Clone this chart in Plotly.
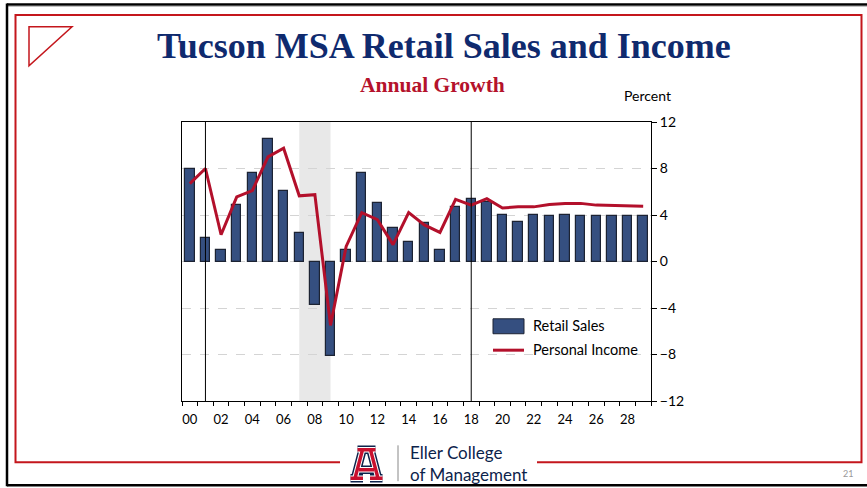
import plotly.graph_objects as go

# ---------------- data ----------------
years = list(range(2000, 2030))
retail_sales = [8.0, 2.0, 0.95, 4.85, 7.6, 10.5, 6.1, 2.45, -3.7, -8.1,
                1.0, 7.6, 5.05, 2.85, 1.7, 3.35, 0.95, 4.65, 5.35, 5.15,
                4.0, 3.4, 4.0, 3.9, 4.0, 3.95, 3.9, 3.9, 3.9, 3.95]
personal_income = [6.7, 8.0, 2.3, 5.55, 6.1, 9.0, 9.75, 5.65, 5.75, -5.5,
                   1.3, 4.2, 3.6, 1.45, 4.2, 3.15, 2.5, 5.35, 4.85, 5.4,
                   4.6, 4.7, 4.7, 4.9, 5.0, 5.0, 4.85, 4.8, 4.8, 4.75]
tick_years = list(range(2000, 2030, 2))
tick_labels = [f"{y % 100:02d}" for y in tick_years]
y_ticks = [-12, -8, -4, 0, 4, 8, 12]
recession = (2007.5, 2009.5)
ref_lines = [2001.5, 2018.5]

# ---------------- geometry helpers ----------------
W, H = 867, 488
L, R, T, B = 182, 651, 121.5, 401.5


def px(x):
    return (x - L) / (R - L)


def py(y):
    return (B - y) / (B - T)


BAR = "#354f80"
LINE = "#b3102b"
NAVY = "#0f2a6e"
RED = "#c4161c"
FONT = "Lato"

centers = [y + 0.5 for y in years]

fig = go.Figure()
fig.add_trace(go.Bar(x=centers, y=retail_sales, width=0.6, name="Retail Sales",
                     marker=dict(color=BAR, line=dict(color="#1c2333", width=1.2)),
                     showlegend=False))
fig.add_trace(go.Scatter(x=centers, y=personal_income, mode="lines", name="Personal Income",
                         line=dict(color=LINE, width=3), showlegend=False))

shapes = []
# recession shading
shapes.append(dict(type="rect", xref="x", yref="paper", x0=recession[0], x1=recession[1],
                   y0=0, y1=1, fillcolor="#e8e8e8", line=dict(width=0), layer="below"))
for v in ref_lines:
    shapes.append(dict(type="line", xref="x", yref="paper", x0=v, x1=v, y0=0, y1=1,
                       line=dict(color="black", width=1)))

# page frame (black)
shapes.append(dict(type="line", xref="paper", yref="paper", x0=px(7), x1=px(W + 5),
                   y0=py(3.5), y1=py(3.5), line=dict(color="black", width=2.5)))
shapes.append(dict(type="line", xref="paper", yref="paper", x0=px(7), x1=px(W + 5),
                   y0=py(5.5), y1=py(5.5), line=dict(color="#bbbbbb", width=1)))
shapes.append(dict(type="line", xref="paper", yref="paper", x0=px(7), x1=px(7),
                   y0=py(2.5), y1=py(487), line=dict(color="black", width=2.5)))
shapes.append(dict(type="line", xref="paper", yref="paper", x0=px(7), x1=px(W + 5),
                   y0=py(486), y1=py(486), line=dict(color="black", width=2.5)))

# red frame
red_path = (f"M {px(340)} {py(463)} L {px(15.5)} {py(463)} L {px(15.5)} {py(14)} "
            f"L {px(861.5)} {py(14)} L {px(861.5)} {py(463)} L {px(537)} {py(463)}")
shapes.append(dict(type="path", xref="paper", yref="paper", path=red_path,
                   line=dict(color=RED, width=2)))
# red triangle
tri = f"M {px(29)} {py(26)} L {px(72)} {py(26)} L {px(29)} {py(65)} Z"
shapes.append(dict(type="path", xref="paper", yref="paper", path=tri,
                   line=dict(color=RED, width=1.5)))

# logo "A"
ox, oy = 350, 447
segs = [((7.5, 3.5), (25.5, 3.5)), ((12.5, 3.5), (5, 32)), ((20.5, 3.5), (28, 32)),
        ((9, 23.5), (24, 23.5)), ((0.5, 32), (13, 32)), ((20, 32), (32.5, 32))]
apath = " ".join(f"M {px(ox + a[0])} {py(oy + a[1])} L {px(ox + b[0])} {py(oy + b[1])}"
                 for a, b in segs)
for col, wdt in [("#0c234b", 8.5), ("white", 5.5), ("#c8102e", 3.5)]:
    shapes.append(dict(type="path", xref="paper", yref="paper", path=apath,
                       line=dict(color=col, width=wdt)))
shapes.append(dict(type="line", xref="paper", yref="paper", x0=px(398), x1=px(398),
                   y0=py(446), y1=py(482), line=dict(color="#888888", width=1)))

# manual legend
shapes.append(dict(type="rect", xref="paper", yref="paper", x0=px(493), x1=px(524),
                   y0=py(334), y1=py(319), fillcolor=BAR, line=dict(color="#1c2333", width=1)))
shapes.append(dict(type="line", xref="paper", yref="paper", x0=px(493), x1=px(524),
                   y0=py(350.5), y1=py(350.5), line=dict(color=LINE, width=3)))

annotations = [
    dict(text="<b>Tucson MSA Retail Sales and Income</b>", x=px(444), y=py(45),
         font=dict(family="Liberation Serif", size=36, color=NAVY)),
    dict(text="<b>Annual Growth</b>", x=px(432), y=py(84),
         font=dict(family="Liberation Serif", size=21.5, color="#b5122b")),
    dict(text="Percent", x=px(673), y=py(95), xanchor="right",
         font=dict(family=FONT, size=14, color="black")),
    dict(text="Retail Sales", x=px(531), y=py(326), xanchor="left",
         font=dict(family=FONT, size=14.5, color="black")),
    dict(text="Personal Income", x=px(531), y=py(350), xanchor="left",
         font=dict(family=FONT, size=14.5, color="black")),
    dict(text="Eller College<br>of Management", x=px(408), y=py(464), xanchor="left",
         align="left", font=dict(family=FONT, size=17, color="#0c234b")),
    dict(text="21", x=px(848), y=py(474), font=dict(family=FONT, size=9, color="#999999")),
]
for a in annotations:
    a.update(xref="paper", yref="paper", showarrow=False)
    a.setdefault("xanchor", "center")
    a.setdefault("yanchor", "middle")

fig.update_layout(
    width=W, height=H,
    margin=dict(l=L, r=W - R, t=T, b=H - B, pad=0),
    paper_bgcolor="white", plot_bgcolor="white",
    shapes=shapes, annotations=annotations, bargap=0,
    font=dict(family=FONT, size=13, color="black"),
    xaxis=dict(range=[2000, 2030], tickvals=[t + 0.5 for t in tick_years], ticktext=tick_labels,
               ticks="", showgrid=False, zeroline=False, showline=True, linecolor="black",
               linewidth=1, mirror=True, ticklabelstandoff=6,
               tickfont=dict(family=FONT, size=13, color="black"),
               minor=dict(tickvals=list(range(2000, 2031)), ticks="outside", ticklen=4,
                          tickcolor="black", tickwidth=1, showgrid=False)),
    yaxis=dict(range=[-12, 12], tickvals=y_ticks, side="right", ticks="outside", ticklen=5,
               tickcolor="black", showline=True, linecolor="black", linewidth=1, mirror=True,
               showgrid=True, gridcolor="#d4d4d4", griddash="dash", zeroline=False,
               tickfont=dict(family=FONT, size=14, color="black")),
)

fig.write_html("out.html", config={"displayModeBar": False},
               post_script="document.body.style.margin='0';")
